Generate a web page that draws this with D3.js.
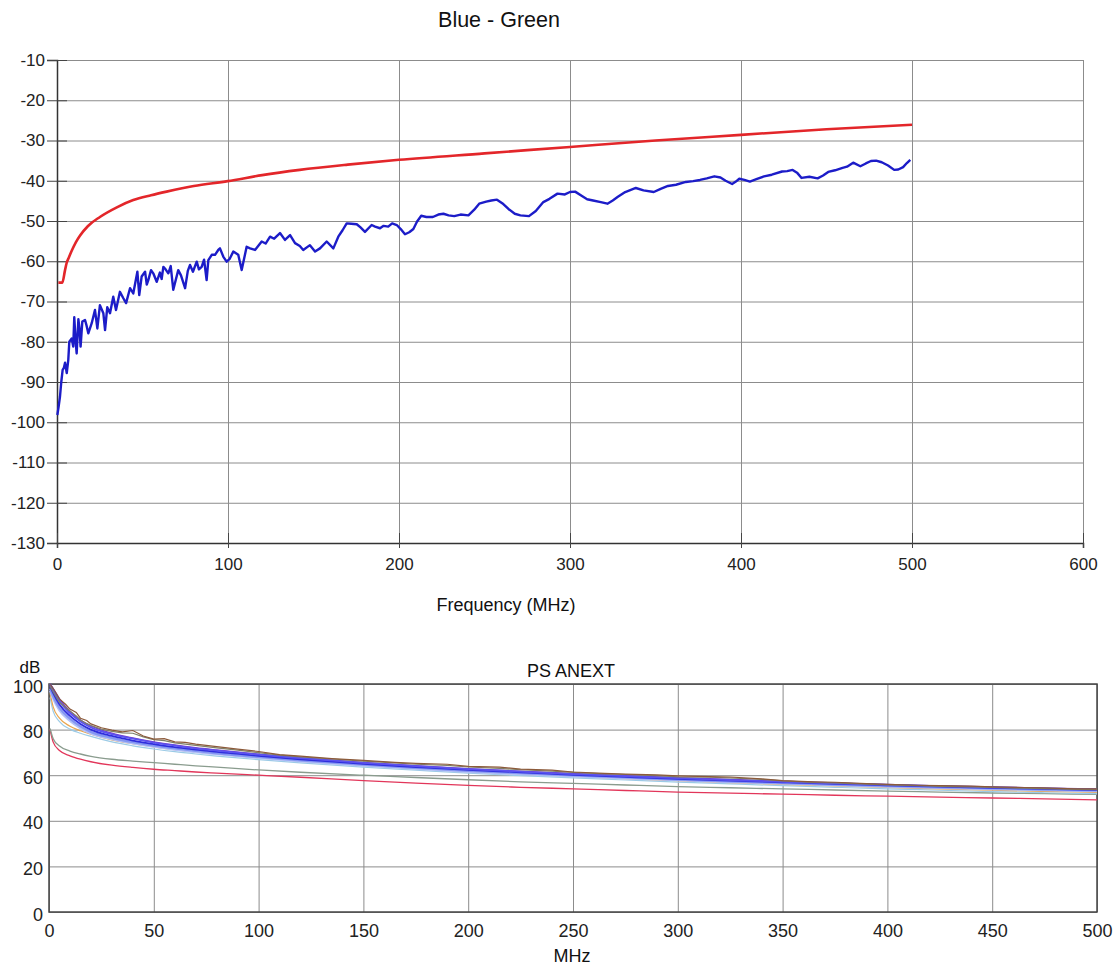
<!DOCTYPE html>
<html lang="en">
<head>
    <meta charset="UTF-8">
    <title>Blue - Green / PS ANEXT</title>
    <style>
        body { margin: 0; background: #fff; }
        svg { display: block; font-family: Arial, "Liberation Sans", sans-serif; }
        .grid line { stroke: #8c8c8c; stroke-width: 1; }
        .grid path { display: none; }
        .tick text { fill: #222; }
    </style>
</head>
<body>
<svg width="1119" height="967"></svg>
<script src="https://d3js.org/d3.v7.min.js"></script>
<script>

// ---- top chart: Blue - Green ----
var blueFreq = [0.2, 1.0, 1.75, 2.5, 3.3, 4.0, 4.7, 5.7, 6.6, 7.2, 8.6, 9.5, 10.1, 11.0, 11.5, 12.5, 13.2, 13.8, 14.8, 16.4,
    17.3, 18.3, 20.3, 22.2, 23.6, 25.1, 27.1, 28.1, 29.4, 31.0, 32.9, 34.5, 36.8, 38.8, 40.4, 42.7, 44.6, 47.0, 48.1, 49.5,
    51.5, 52.5, 53.4, 55, 56.3, 58.3, 60.2, 61.2, 62.2, 63.5, 65.1, 66.5, 68.0, 70.9, 72.5, 74.9, 76.5, 77.8, 79.5, 81.7, 83, 84.6, 86, 87.5, 88.5, 90.5, 92.4, 94.3, 95.3,
    97.3, 99.2, 101, 103.1, 106.0, 108.0, 110.9, 112.9, 115.8, 119.7, 122, 124.6, 127, 130.4, 133.3, 136.3, 139.2, 142, 144.0, 147.9,
    150.9, 153.8, 157.7, 161.6, 164.5, 167, 169.4, 172, 175.3, 177.5, 180.1, 184.0, 186, 188.9, 191, 193.7, 196, 198.7, 201, 203.5,
    206, 208.4, 210.5, 213, 216, 219.8, 223, 226, 229, 232.3, 236, 240.6, 244, 246.9, 251, 254, 257.3, 261, 264, 267.7,
    271, 276, 280, 284.4, 288, 292.7, 297, 300, 303, 307, 310, 313.5, 318, 321.9, 325, 328, 332.3, 338.5, 343, 349,
    353, 357.3, 362, 367.7, 372, 376, 380, 384.4, 388, 391, 394.8, 397, 399, 402, 405.2, 409, 413.5, 418, 424, 427,
    430.2, 433, 435.4, 440, 444.8, 448, 451, 455, 459.4, 462, 465.6, 469.8, 473, 476, 479, 482.3, 486, 489.6, 492, 494.8,
    497, 499];
var blueLoss = [-98.2, -96.0, -93.6, -90.0, -87.0, -86.5, -85.2, -87.8, -84.5, -80.0, -79.2, -81.2, -73.9, -80.5, -82.9, -74.4, -77.0, -81.2, -75.0, -74.6,
    -76.0, -77.9, -75.4, -72.1, -76.7, -70.9, -72.9, -77.1, -71.4, -72.9, -68.8, -72.1, -67.6, -69.2, -70.4, -66.7, -68.0, -62.6, -68.4, -63.8,
    -62.6, -65.8, -64.7, -62.2, -63.0, -65.1, -62.8, -64.4, -61.4, -62.0, -63.0, -61.2, -67.1, -62.2, -63.5, -66.7, -62.4, -60.9, -62.6, -60.1, -62.0, -61.4, -59.6, -64.7, -59.7, -58.4, -58.4, -57.2, -56.8,
    -58.9, -60.1, -59.4, -57.6, -58.4, -62.2, -56.4, -56.8, -57.2, -55.1, -55.6, -53.9, -54.4, -53.0, -54.7, -53.5, -55.5, -56.2, -57.2, -56.0,
    -57.6, -56.8, -55.1, -56.8, -53.9, -52.3, -50.6, -50.7, -50.8, -51.6, -52.7, -51.0, -51.4, -51.8, -51.2, -51.4, -50.6, -51.0, -52.0, -53.3,
    -52.8, -52.0, -50.2, -48.7, -49.0, -49.0, -48.4, -48.2, -48.6, -48.8, -48.4, -48.6, -47.2, -45.7, -45.2, -44.9, -44.7, -45.8, -47.0, -48.2,
    -48.6, -48.8, -47.5, -45.3, -44.5, -43.2, -43.4, -42.8, -42.7, -43.8, -44.6, -44.9, -45.3, -45.7, -44.9, -44.0, -42.8, -41.8, -42.4, -42.8,
    -42.0, -41.3, -41.0, -40.3, -40.1, -39.8, -39.4, -38.9, -39.2, -40.0, -40.8, -40.2, -39.5, -39.8, -40.2, -39.6, -38.9, -38.5, -37.7, -37.6,
    -37.3, -38.1, -39.3, -39.0, -39.4, -38.7, -37.8, -37.4, -36.8, -36.5, -35.5, -36.4, -35.7, -35.1, -35.0, -35.4, -36.2, -37.3, -37.2, -36.6,
    -35.6, -34.8];
var limitFreq = [0.8, 3.1, 4.7, 5.6, 7, 8.6, 11, 13.5, 18, 25.1, 35, 44.6, 55, 64.1, 80, 99.8, 120, 142, 170, 200, 250, 300, 350, 400, 450, 500];
var limitLoss = [-65.3, -65.3, -62.2, -60.5, -59.0, -57.4, -55.3, -53.6, -51.3, -49.0, -46.6, -44.8, -43.6, -42.7, -41.3, -40.1, -38.6, -37.3, -36.0, -34.8, -33.2, -31.6, -30.0, -28.6, -27.2, -26.1];
var topXTicks = [0, 100, 200, 300, 400, 500, 600];
var topYTicks = [-10, -20, -30, -40, -50, -60, -70, -80, -90, -100, -110, -120, -130];

// ---- bottom chart: PS ANEXT ----
var anextFreq = [0.5, 2, 5, 10, 15, 20, 30, 40, 50, 60, 70, 80, 100, 120, 150, 175, 200, 225, 250, 275, 300, 325, 350, 375, 400, 425, 450, 475, 500];
var paleBlue = [97, 93.5, 88.4, 83.8, 80.6, 78.3, 75.8, 73.9, 72.5, 71.2, 70.1, 69.2, 67.6, 66.1, 64.2, 62.8, 61.5, 60.5, 59.5, 58.6, 57.8, 57, 56.3, 55.6, 55, 54.4, 53.9, 53.4, 53];
var cyan = [94, 88, 83.5, 80.2, 78.4, 77, 74.6, 72.9, 71.5, 70.3, 69.3, 68.4, 66.8, 65.4, 63.5, 62.2, 60.9, 59.8, 58.8, 57.9, 57, 56.2, 55.4, 54.7, 54, 53.4, 52.8, 52.3, 51.9];
var orange = [96, 90, 85, 81.5, 79.5, 78, 75.5, 73.8, 72.4, 71.2, 70.2, 69.3, 67.6, 66.2, 64.3, 63, 61.6, 60.5, 59.5, 58.5, 57.6, 56.7, 56, 55.3, 54.6, 54, 53.4, 52.9, 52.5];
var lightBlue = [98, 94.5, 89.5, 84.8, 81.4, 79, 76.4, 74.5, 73, 71.7, 70.6, 69.6, 68, 66.5, 64.6, 63.2, 61.9, 60.9, 59.9, 59, 58.1, 57.3, 56.6, 55.9, 55.3, 54.7, 54.2, 53.7, 53.3];
var blueA = [99, 96, 91, 86, 82.5, 80, 77.2, 75.2, 73.6, 72.3, 71.2, 70.2, 68.5, 67, 65, 63.6, 62.3, 61.3, 60.2, 59.3, 58.4, 57.6, 56.9, 56.2, 55.6, 55, 54.5, 54, 53.6];
var blueB = [100, 97.5, 92.5, 87.2, 83.6, 81, 78, 76, 74.3, 73, 71.8, 70.8, 69, 67.5, 65.4, 64, 62.7, 61.6, 60.5, 59.6, 58.7, 57.9, 57.1, 56.4, 55.8, 55.2, 54.7, 54.2, 53.8];
var purple = [100, 98, 93.5, 88, 84.2, 81.6, 78.4, 76.3, 74.6, 73.2, 72, 71, 69.2, 67.6, 65.6, 64.1, 62.8, 61.7, 60.7, 59.8, 58.9, 58.1, 57.3, 56.6, 55.9, 55.3, 54.8, 54.3, 53.9];
var limitGray = [80.5, 76, 72.8, 70.6, 69.3, 68.3, 67, 66.2, 65.5, 64.8, 64.1, 63.5, 62.3, 61.3, 60, 59, 58, 57.1, 56.4, 55.7, 55, 54.5, 54, 53.5, 53, 52.6, 52.2, 51.9, 51.6];
var limitRed = [80, 74.5, 70.8, 68.5, 67, 65.9, 64.4, 63.4, 62.6, 62, 61.4, 60.9, 60, 59.1, 57.6, 56.5, 55.5, 54.7, 54, 53.3, 52.6, 52.1, 51.7, 51.2, 50.8, 50.4, 50, 49.6, 49.2];
var noisyFreq = [0.5, 2, 5, 8, 10, 13, 15, 18, 20, 25, 30, 35, 40, 45, 50, 55, 60, 65, 70, 80, 90, 100, 110, 120, 135, 150, 165, 175, 190, 200,
    215, 225, 240, 250, 265, 275, 290, 300, 315, 325, 340, 350, 365, 375, 390, 400, 415, 425, 440, 450, 465, 475, 490, 500];
var brown = [100, 98, 93.5, 91, 89, 87.5, 85, 84, 82.5, 80.8, 79.8, 79, 79.6, 77.2, 75.8, 76, 74.6, 74.4, 73.6, 72.5, 71.4, 70.4, 69, 68.4, 67.3, 66.5, 65.6, 65.2, 64.8, 63.9,
    63.5, 62.7, 62.2, 61.4, 60.8, 60.5, 60.1, 59.7, 59.4, 59.2, 58.4, 57.6, 57.1, 56.9, 56.3, 56, 55.6, 55.4, 55.2, 54.9, 54.6, 54.4, 54, 54];
var olive = [99, 96.5, 92, 89.6, 88.2, 86, 84.2, 82.6, 81.8, 80.2, 79.2, 78.6, 78.4, 76.8, 75.6, 75.2, 74.2, 73.6, 73.1, 72, 71, 69.9, 68.8, 68, 67.1, 66.2, 65.4, 64.8, 64.3, 63.6,
    63, 62.4, 61.8, 61.2, 60.6, 60.3, 59.8, 59.3, 59.1, 58.8, 58.2, 57.5, 56.8, 56.6, 56.1, 55.7, 55.4, 55.1, 54.9, 54.6, 54.3, 54.1, 53.8, 53.7];
var botXTicks = [0, 50, 100, 150, 200, 250, 300, 350, 400, 450, 500];
var botYTicks = [0, 20, 40, 60, 80, 100];

var svg = d3.select("svg");

function zip(xs, ys) {
    return xs.map(function(x, i) { return [x, ys[i]]; });
}

// plain hyphen minus, like the original software
function plain(d) { return String(d); }

// ===== top chart =====
var tx = d3.scaleLinear().domain([0, 600]).range([57, 1083]),
    ty = d3.scaleLinear().domain([-130, -10]).range([543, 60]);

var topG = svg.append("g");

topG.append("g")
    .attr("class", "grid")
    .attr("transform", "translate(0,60)")
    .call(d3.axisTop(tx).tickValues(topXTicks).tickSize(-483).tickFormat(""));
topG.append("g")
    .attr("class", "grid")
    .attr("transform", "translate(57,0)")
    .call(d3.axisLeft(ty).tickValues(topYTicks).tickSize(-1026).tickFormat(""));

// axes with small ticks crossing the axis line
var tyAxis = topG.append("g")
    .attr("transform", "translate(57,0)")
    .call(d3.axisLeft(ty).tickValues(topYTicks).tickSize(10).tickPadding(2).tickFormat(plain));
tyAxis.selectAll(".tick line").attr("x2", 10).attr("x1", -10).attr("stroke", "#444");
tyAxis.select(".domain").attr("stroke", "#333").attr("stroke-width", 1.5);

var txAxis = topG.append("g")
    .attr("transform", "translate(0,543)")
    .call(d3.axisBottom(tx).tickValues(topXTicks).tickSize(5).tickPadding(10).tickFormat(plain));
txAxis.selectAll(".tick line").attr("y1", -10).attr("stroke", "#444");
txAxis.select(".domain").attr("stroke", "#333").attr("stroke-width", 1.5);

topG.selectAll(".tick text").attr("font-size", 17).attr("font-family", "Arial, 'Liberation Sans', sans-serif");

var topLine = d3.line()
    .x(function(d) { return tx(d[0]); })
    .y(function(d) { return ty(d[1]); });

topG.append("path")
    .datum(zip(limitFreq, limitLoss))
    .attr("fill", "none")
    .attr("stroke", "#e3262a")
    .attr("stroke-width", 2.6)
    .attr("d", topLine.curve(d3.curveMonotoneX));

topG.append("path")
    .datum(zip(blueFreq, blueLoss))
    .attr("fill", "none")
    .attr("stroke", "#1c1cc8")
    .attr("stroke-width", 2.4)
    .attr("stroke-linejoin", "round")
    .attr("d", topLine.curve(d3.curveLinear));

topG.append("text")
    .attr("x", 499).attr("y", 27)
    .attr("text-anchor", "middle")
    .attr("font-size", 21.5)
    .attr("fill", "#111")
    .text("Blue - Green");

topG.append("text")
    .attr("x", 506).attr("y", 611)
    .attr("text-anchor", "middle")
    .attr("font-size", 18)
    .attr("fill", "#111")
    .text("Frequency (MHz)");

// ===== bottom chart =====
var bx = d3.scaleLinear().domain([0, 500]).range([49, 1097]),
    by = d3.scaleLinear().domain([0, 100]).range([912, 684]);

var botG = svg.append("g");

botG.append("g")
    .attr("class", "grid")
    .attr("transform", "translate(0,684)")
    .call(d3.axisTop(bx).tickValues(botXTicks).tickSize(-228).tickFormat(""));
botG.append("g")
    .attr("class", "grid")
    .attr("transform", "translate(49,0)")
    .call(d3.axisLeft(by).tickValues(botYTicks).tickSize(-1048).tickFormat(""));
botG.selectAll(".grid line").attr("stroke", "#666");

botG.append("rect")
    .attr("x", 49).attr("y", 684)
    .attr("width", 1048).attr("height", 228)
    .attr("fill", "none")
    .attr("stroke", "#444")
    .attr("stroke-width", 1.5);

var byAxis = botG.append("g")
    .attr("transform", "translate(49,0)")
    .call(d3.axisLeft(by).tickValues(botYTicks).tickSize(0).tickPadding(6).tickFormat(plain));
byAxis.select(".domain").remove();
byAxis.selectAll(".tick text").attr("dy", "0.45em");

var bxAxis = botG.append("g")
    .attr("transform", "translate(0,912)")
    .call(d3.axisBottom(bx).tickValues(botXTicks).tickSize(0).tickPadding(12).tickFormat(plain));
bxAxis.select(".domain").remove();

botG.selectAll(".tick text").attr("font-size", 18).attr("font-family", "Arial, 'Liberation Sans', sans-serif");

var botLine = d3.line()
    .x(function(d) { return bx(d[0]); })
    .y(function(d) { return by(d[1]); });

var smooth = [
    { vals: limitRed, color: "#e2365a", w: 1.3 },
    { vals: limitGray, color: "#8a9c8e", w: 1.3 },
    { vals: cyan, color: "#9ccbe6", w: 1.2 },
    { vals: orange, color: "#eaa54e", w: 1.2 },
    { vals: paleBlue, color: "#b4c2f6", w: 2.2 },
    { vals: lightBlue, color: "#8496f2", w: 2.2 },
    { vals: blueA, color: "#2e2edc", w: 1.8 },
    { vals: purple, color: "#7a3cc8", w: 1.5 },
    { vals: blueB, color: "#5a52f0", w: 1.8 }
];

botG.selectAll(".smooth")
    .data(smooth)
    .enter().append("path")
    .attr("class", "smooth")
    .attr("fill", "none")
    .attr("stroke", function(d) { return d.color; })
    .attr("stroke-width", function(d) { return d.w; })
    .attr("d", function(d) { return botLine.curve(d3.curveMonotoneX)(zip(anextFreq, d.vals)); });

var noisy = [
    { vals: olive, color: "#7e806a" },
    { vals: brown, color: "#8c5a3a" }
];

botG.selectAll(".noisy")
    .data(noisy)
    .enter().append("path")
    .attr("class", "noisy")
    .attr("fill", "none")
    .attr("stroke", function(d) { return d.color; })
    .attr("stroke-width", 1.2)
    .attr("d", function(d) { return botLine.curve(d3.curveLinear)(zip(noisyFreq, d.vals)); });

botG.append("text")
    .attr("x", 30).attr("y", 673)
    .attr("text-anchor", "middle")
    .attr("font-size", 17)
    .attr("fill", "#111")
    .text("dB");

botG.append("text")
    .attr("x", 571).attr("y", 677)
    .attr("text-anchor", "middle")
    .attr("font-size", 18)
    .attr("fill", "#111")
    .text("PS ANEXT");

botG.append("text")
    .attr("x", 572).attr("y", 962)
    .attr("text-anchor", "middle")
    .attr("font-size", 18)
    .attr("fill", "#111")
    .text("MHz");

</script>
</body>
</html>
